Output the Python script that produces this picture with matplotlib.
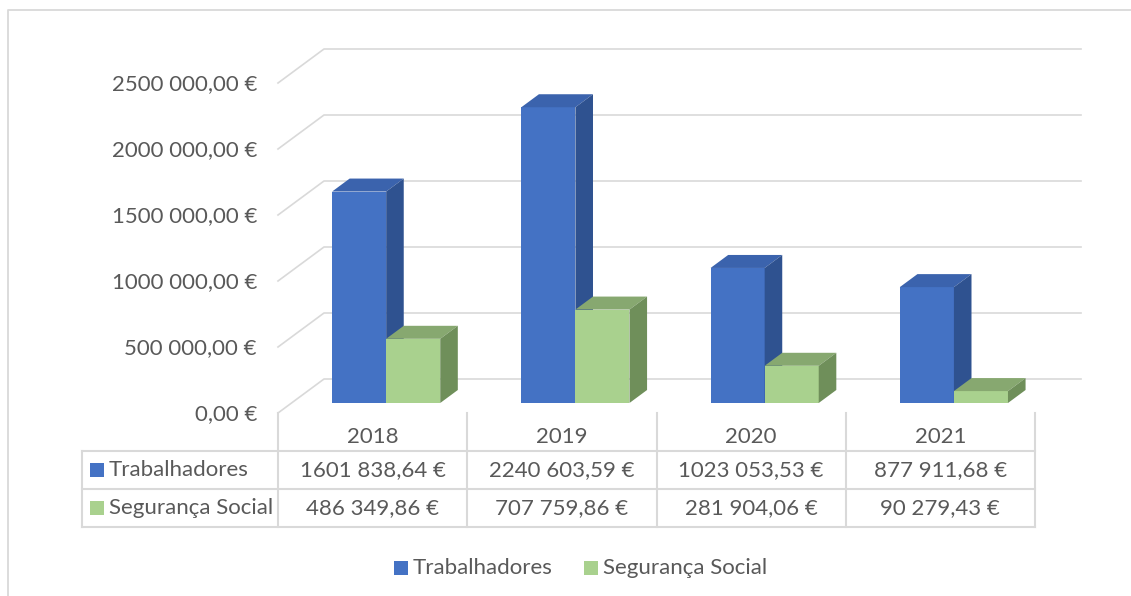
import matplotlib
matplotlib.use('Agg')
import matplotlib.pyplot as plt
from matplotlib.patches import Polygon, Rectangle
import numpy as np

plt.rcParams['font.family'] = ['Lato', 'DejaVu Sans']

# dados
anos = ['2018', '2019', '2020', '2021']
trabalhadores = [1601838.64, 2240603.59, 1023053.53, 877911.68]
seguranca = [486349.86, 707759.86, 281904.06, 90279.43]
series_nomes = ['Trabalhadores', 'Segurança Social']
ticks = [0, 500000, 1000000, 1500000, 2000000, 2500000]

COR_TXT = '#595959'
COR_GRID = '#d9d9d9'
FS = 16
cores = [('#4472c4', '#3b63ad', '#2f5290'), ('#a9d18e', '#87a870', '#6f8f5a')]


def eur(v):
    cent = int(round(v * 100))
    ip, fp = divmod(cent, 100)
    s = f"{ip // 1000} {ip % 1000:03d}" if ip >= 1000 else str(ip)
    return f"{s},{fp:02d} €"


# conversão pixel -> dados (figura inteira como eixo)
W, H = 1131, 596
X0, COLW = 278, 189.25
Y0, VPP = 413, 500000 / 66.0


def px(x):
    return (x - X0) / COLW


def py(y):
    return (Y0 - y) * VPP


fig = plt.figure(figsize=(W / 100, H / 100), dpi=100)
ax = fig.add_axes([0, 0, 1, 1])
ax.set_xlim(px(0), px(W))
ax.set_ylim(py(H), py(0))
ax.axis('off')

# profundidade (oblíqua)
DX = 46 / COLW
DY = 34 * VPP
z1, z2 = 10 / 34, 23 / 34
n = len(anos)

# moldura
ax.plot([px(8), px(8), px(W)], [py(H), py(10), py(10)], color=COR_GRID, lw=1.3, zorder=0)

# grelha: parede lateral + parede de fundo
for t in ticks:
    ax.plot([0, DX, n + DX], [t, t + DY, t + DY], color=COR_GRID, lw=1.2, zorder=1)
    ax.text(px(257), py(Y0 + 1) + t, eur(t), ha='right', va='center', fontsize=FS, color=COR_TXT)

# barras 3D
w = 1 / 3.5
for i in range(n):
    for k, vals in enumerate([trabalhadores, seguranca]):
        v = vals[i]
        xl = i + 0.5 - w + k * w + z1 * DX
        yb = z1 * DY
        xr = xl + w
        zo = 3 + i * 2 + k
        ax.bar(xl, v, width=w, bottom=yb, align='edge', color=cores[k][0], lw=0, zorder=zo)
        ddx, ddy = (z2 - z1) * DX, (z2 - z1) * DY
        top = [(xl, yb + v), (xr, yb + v), (xr + ddx, yb + v + ddy), (xl + ddx, yb + v + ddy)]
        side = [(xr, yb), (xr + ddx, yb + ddy), (xr + ddx, yb + v + ddy), (xr, yb + v)]
        ax.add_patch(Polygon(top, closed=True, fc=cores[k][1], lw=0, zorder=zo))
        ax.add_patch(Polygon(side, closed=True, fc=cores[k][2], lw=0, zorder=zo))

# tabela de dados
r0, r1, r2, r3 = 413, 451, 489, 527
lk = dict(color=COR_GRID, lw=1.5, zorder=2)
for i in range(n + 1):
    ax.plot([i, i], [py(r0), py(r3)], **lk)
ax.plot([px(82), px(82)], [py(r1), py(r3)], **lk)
for r in (r1, r2, r3):
    ax.plot([px(82), n], [py(r), py(r)], **lk)

for i, a in enumerate(anos):
    ax.text(i + 0.5, py(437), a, ha='center', va='center', fontsize=FS, color=COR_TXT)
    ax.text(i + 0.5, py(470), eur(trabalhadores[i]), ha='center', va='center', fontsize=FS, color=COR_TXT)
    ax.text(i + 0.5, py(508), eur(seguranca[i]), ha='center', va='center', fontsize=FS, color=COR_TXT)

for k, (nome, yc) in enumerate(zip(series_nomes, (470, 508))):
    ax.add_patch(Rectangle((px(90), py(yc + 7)), 14 / COLW, 14 * VPP, fc=cores[k][0], lw=0))
    ax.text(px(109), py(yc), nome, ha='left', va='center', fontsize=FS, color=COR_TXT)

# legenda
for k, (nome, x) in enumerate(zip(series_nomes, (394, 584))):
    ax.add_patch(Rectangle((px(x), py(575)), 14 / COLW, 14 * VPP, fc=cores[k][0], lw=0))
    ax.text(px(x + 19), py(568), nome, ha='left', va='center', fontsize=FS, color=COR_TXT)

fig.savefig('out.png', dpi=100)
